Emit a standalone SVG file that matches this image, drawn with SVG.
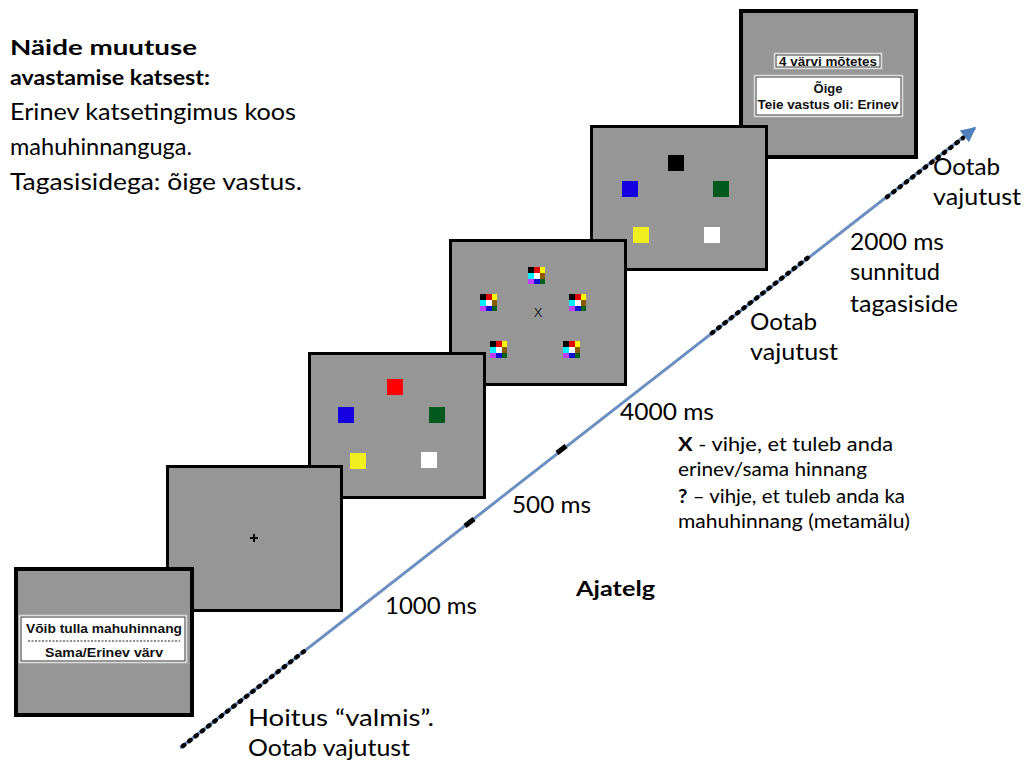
<svg xmlns="http://www.w3.org/2000/svg" width="1026" height="760" viewBox="0 0 1026 760">
<style>
.scr{fill:#969696;stroke:#000;stroke-width:3}
.scr4{fill:#969696;stroke:#000;stroke-width:4}
.t{font-family:Lato,"Open Sans",sans-serif;fill:#000}
.b{font-weight:bold}
.st{font-family:"Liberation Sans",Arial,sans-serif;font-weight:bold;font-size:13px;fill:#111;text-anchor:middle}
.wbox{fill:#fff;stroke:#bbb;stroke-width:1}
.ibox{fill:none;stroke:#333;stroke-width:1}
.dots{stroke:#000;stroke-width:4.5;stroke-linecap:round;stroke-dasharray:1.5 6.5;fill:none}
.tick{stroke:#000;stroke-width:5;fill:none}
</style>
<defs>
<g id="mask">
<rect x="0" y="0" width="6" height="6" fill="#000"/>
<rect x="6" y="0" width="6" height="6" fill="#E00000"/>
<rect x="12" y="0" width="5" height="6" fill="#FFFF00"/>
<rect x="0" y="6" width="6" height="6" fill="#00F0FF"/>
<rect x="6" y="6" width="6" height="6" fill="#FFFFFF"/>
<rect x="12" y="6" width="5" height="6" fill="#8B5A00"/>
<rect x="0" y="12" width="6" height="5" fill="#C040FF"/>
<rect x="6" y="12" width="6" height="5" fill="#1010D0"/>
<rect x="12" y="12" width="5" height="5" fill="#006020"/>
</g>
<marker id="ah" viewBox="0 0 10 10" refX="9" refY="5" markerWidth="6" markerHeight="5" orient="auto" markerUnits="strokeWidth">
<path d="M0,0 L10,5 L0,10 Z" fill="#4F81BD"/>
</marker>
</defs>
<rect width="1026" height="760" fill="#fff"/>

<g id="screen6">
<rect class="scr4" x="741" y="11" width="175" height="146"/>
<rect class="wbox" x="774" y="53" width="108" height="16"/>
<rect class="ibox" x="776" y="55" width="104" height="12"/>
<text class="st" x="828" y="65.5" font-size="12" style="font-size:12px" textLength="98" lengthAdjust="spacingAndGlyphs">4 värvi mõtetes</text>
<rect class="wbox" x="754" y="75" width="149" height="42"/>
<rect class="ibox" x="756" y="77" width="145" height="38"/>
<text class="st" x="828" y="93">Õige</text>
<text class="st" x="828" y="109" textLength="141" lengthAdjust="spacingAndGlyphs">Teie vastus oli: Erinev</text>
</g>

<g id="screen5">
<rect class="scr" x="591.5" y="126.5" width="175" height="143"/>
<rect x="668" y="155" width="16" height="16" fill="#000"/>
<rect x="622" y="181" width="16" height="16" fill="#1400E0"/>
<rect x="713" y="181" width="16" height="16" fill="#005A1E"/>
<rect x="633" y="227" width="16" height="16" fill="#F0F020"/>
<rect x="704" y="227" width="16" height="16" fill="#FFFFFF"/>
</g>

<g id="screen4">
<rect class="scr" x="450.5" y="240.5" width="175" height="144"/>
<use href="#mask" x="528" y="267"/>
<use href="#mask" x="480" y="294"/>
<use href="#mask" x="569" y="294"/>
<use href="#mask" x="490" y="341"/>
<use href="#mask" x="563" y="341"/>
<text x="538" y="317" font-family="Liberation Sans,Arial,sans-serif" font-size="13" text-anchor="middle" fill="#222">X</text>
</g>

<g id="screen3">
<rect class="scr" x="309.5" y="353.5" width="175" height="144"/>
<rect x="387" y="379" width="16" height="16" fill="#FF0000"/>
<rect x="338" y="407" width="16" height="16" fill="#1400E0"/>
<rect x="429" y="407" width="16" height="16" fill="#005A1E"/>
<rect x="350" y="453" width="16" height="16" fill="#F0F020"/>
<rect x="421" y="452" width="16" height="16" fill="#FFFFFF"/>
</g>

<g id="screen2">
<rect class="scr" x="167.5" y="466.5" width="174" height="144"/>
<path d="M250,538 H258 M254,534 V542" stroke="#000" stroke-width="2"/>
</g>

<g id="screen1">
<rect class="scr4" x="16" y="569" width="176" height="146"/>
<rect class="wbox" x="19" y="615" width="168" height="48"/>
<rect class="ibox" x="21" y="617" width="164" height="44"/>
<text class="st" x="104" y="633" textLength="156" lengthAdjust="spacingAndGlyphs">Võib tulla mahuhinnang</text>
<line x1="28" y1="641" x2="180" y2="641" stroke="#222" stroke-width="1" stroke-dasharray="2 1.5"/>
<text class="st" x="104" y="657" textLength="118" lengthAdjust="spacingAndGlyphs">Sama/Erinev värv</text>
</g>

<g id="connectors">
<line x1="180" y1="748" x2="975" y2="128" stroke="#6A8FC0" stroke-width="3" marker-end="url(#ah)"/>
<line class="dots" x1="183" y1="746" x2="307" y2="649"/>
<line class="dots" x1="712" y1="333" x2="810" y2="256"/>
<line class="dots" x1="887" y1="197" x2="963" y2="138"/>
<line class="tick" x1="465" y1="526" x2="474" y2="519"/>
<line class="tick" x1="557" y1="453" x2="566" y2="446"/>
</g>

<g id="labels">
<text class="t b" x="10" y="55" font-size="21" textLength="187" lengthAdjust="spacingAndGlyphs">Näide muutuse</text>
<text class="t b" x="10" y="85" font-size="21" textLength="200" lengthAdjust="spacingAndGlyphs">avastamise katsest:</text>
<text class="t" x="10" y="120" font-size="23.5" textLength="286" lengthAdjust="spacingAndGlyphs">Erinev katsetingimus koos</text>
<text class="t" x="10" y="155" font-size="23.5" textLength="182" lengthAdjust="spacingAndGlyphs">mahuhinnanguga.</text>
<text class="t" x="10" y="190" font-size="23.5" textLength="292" lengthAdjust="spacingAndGlyphs">Tagasisidega: õige vastus.</text>

<text class="t" x="248" y="726" font-size="23.5" textLength="186" lengthAdjust="spacingAndGlyphs">Hoitus “valmis”.</text>
<text class="t" x="248" y="756" font-size="23.5" textLength="162" lengthAdjust="spacingAndGlyphs">Ootab vajutust</text>
<text class="t" x="385" y="614" font-size="23.5" textLength="92" lengthAdjust="spacingAndGlyphs">1000 ms</text>
<text class="t" x="512" y="513" font-size="23.5" textLength="79" lengthAdjust="spacingAndGlyphs">500 ms</text>
<text class="t b" x="576" y="596" font-size="21" textLength="79" lengthAdjust="spacingAndGlyphs">Ajatelg</text>
<text class="t" x="620" y="420" font-size="23.5" textLength="94" lengthAdjust="spacingAndGlyphs">4000 ms</text>

<text class="t" x="678" y="451" font-size="18.5" textLength="215" lengthAdjust="spacingAndGlyphs"><tspan font-weight="bold">X</tspan> - vihje, et tuleb anda</text>
<text class="t" x="678" y="476" font-size="18.5" textLength="189" lengthAdjust="spacingAndGlyphs">erinev/sama hinnang</text>
<text class="t" x="678" y="503" font-size="18.5" textLength="227" lengthAdjust="spacingAndGlyphs"><tspan font-weight="bold">?</tspan> – vihje, et tuleb anda ka</text>
<text class="t" x="678" y="528" font-size="18.5" textLength="232" lengthAdjust="spacingAndGlyphs">mahuhinnang (metamälu)</text>

<text class="t" x="750" y="330" font-size="23.5" textLength="67" lengthAdjust="spacingAndGlyphs">Ootab</text>
<text class="t" x="750" y="360" font-size="23.5" textLength="88" lengthAdjust="spacingAndGlyphs">vajutust</text>
<text class="t" x="850" y="250" font-size="23.5" textLength="94" lengthAdjust="spacingAndGlyphs">2000 ms</text>
<text class="t" x="850" y="280" font-size="23.5" textLength="90" lengthAdjust="spacingAndGlyphs">sunnitud</text>
<text class="t" x="850" y="312" font-size="23.5" textLength="108" lengthAdjust="spacingAndGlyphs">tagasiside</text>
<text class="t" x="933" y="175" font-size="23.5" textLength="67" lengthAdjust="spacingAndGlyphs">Ootab</text>
<text class="t" x="933" y="205" font-size="23.5" textLength="88" lengthAdjust="spacingAndGlyphs">vajutust</text>
</g>
</svg>
